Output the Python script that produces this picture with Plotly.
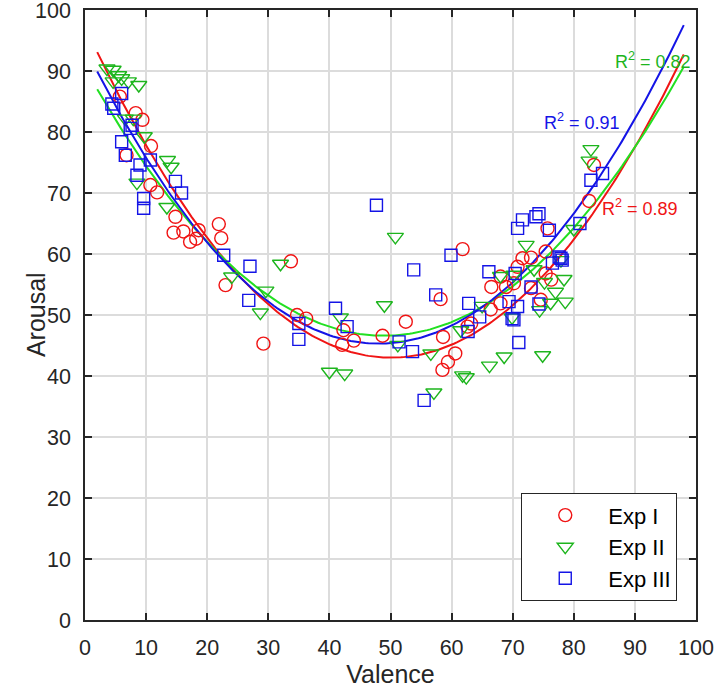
import numpy as np
import plotly.graph_objects as go

# (valence, arousal) pairs
exp1_points = [
    (5.7, 85.8), (8.3, 83.1), (9.4, 82.0), (10.8, 77.7), (6.8, 76.2), (10.7, 71.3),
    (11.8, 70.1), (14.8, 66.1), (14.5, 63.5), (16.1, 63.7), (17.2, 62.0), (18.2, 62.5),
    (18.6, 63.9), (21.9, 64.9), (22.3, 62.6), (23.0, 54.9), (33.7, 58.8), (29.2, 45.3),
    (34.7, 50.0), (36.2, 49.4), (42.3, 47.5), (42.1, 45.1), (44.0, 45.8), (48.7, 46.6),
    (52.5, 48.9), (61.8, 60.8), (58.2, 52.6), (58.6, 46.4), (60.6, 43.7), (59.4, 42.3),
    (58.5, 41.0), (63.2, 48.6), (62.6, 48.1), (66.5, 54.6), (68.0, 56.3), (66.4, 50.9),
    (68.0, 51.9), (71.6, 59.3), (73.0, 59.4), (75.7, 64.2), (75.4, 60.4), (75.4, 56.8),
    (73.0, 54.4), (74.6, 52.5), (70.2, 55.2), (68.9, 54.6), (70.8, 57.9), (82.5, 68.7),
    (83.3, 74.6), (76.3, 55.8),
]
exp2_points = [
    (3.6, 90.4), (4.6, 90.2), (5.5, 89.3), (6.0, 88.8), (7.1, 88.3), (4.6, 88.3),
    (8.8, 87.7), (6.6, 82.2), (7.9, 82.2), (9.7, 79.3), (13.5, 75.4), (14.1, 74.3),
    (8.5, 71.7), (13.4, 67.7), (24.0, 56.3), (32.0, 58.4), (29.6, 54.0), (28.7, 50.4),
    (41.8, 49.6), (40.0, 40.7), (42.5, 40.4), (49.0, 51.6), (50.8, 62.8), (51.2, 45.1),
    (56.6, 43.7), (57.1, 37.3), (61.8, 40.1), (62.4, 39.8), (61.5, 47.5), (66.2, 41.7),
    (65.0, 51.5), (68.6, 43.2), (74.9, 43.4), (69.9, 49.6), (72.2, 61.5), (74.4, 50.8),
    (76.2, 52.0), (78.6, 52.2), (78.4, 55.9), (77.0, 53.8), (68.0, 56.4), (77.9, 59.0),
    (82.8, 77.2), (82.5, 75.3), (80.0, 64.1), (73.5, 57.5), (75.2, 55.4), (70.2, 56.6),
]
exp3_points = [
    (6.0, 86.3), (4.4, 84.6), (4.7, 83.9), (7.7, 81.1), (7.4, 80.6), (6.0, 78.4),
    (6.6, 76.2), (9.0, 74.6), (10.7, 75.4), (8.5, 72.9), (9.6, 69.1), (9.6, 67.5),
    (14.8, 71.9), (15.8, 70.0), (22.7, 59.8), (27.0, 58.0), (26.8, 52.4), (35.0, 48.6),
    (35.0, 46.0), (41.0, 51.1), (42.9, 48.1), (47.7, 68.0), (53.8, 57.4), (59.9, 59.8),
    (57.4, 53.3), (66.1, 57.1), (62.8, 51.9), (64.6, 49.7), (51.4, 45.6), (53.6, 44.0),
    (62.7, 47.3), (55.5, 36.0), (70.8, 64.2), (71.6, 65.6), (73.8, 66.1), (74.3, 66.6),
    (76.0, 63.9), (81.0, 65.0), (77.9, 59.3), (76.5, 58.5), (70.4, 56.8), (73.0, 54.6),
    (74.3, 51.8), (69.4, 52.2), (70.8, 51.4), (69.9, 49.4), (70.2, 49.2), (71.0, 45.5),
    (82.8, 72.1), (84.7, 73.2), (78.1, 59.0), (77.6, 59.5),
]

names = ["Exp I", "Exp II", "Exp III"]
r2_labels = ["0.89", "0.82", "0.91"]

# quadratic fit coefficients (a, b, c)
fit_exp1 = [0.02166, -2.170, 97.35]
fit_exp2 = [0.01833, -1.7945, 90.52]
fit_exp3 = [0.02098, -2.0187, 93.86]
fit_range = [2, 98]

series = [exp1_points, exp2_points, exp3_points]
fits = [fit_exp1, fit_exp2, fit_exp3]
marker_colors = ["#F01414", "#1DB51D", "#1414E6"]
line_colors = ["#F01414", "#22E022", "#1414E6"]
symbols = ["circle-open", "triangle-down-open", "square-open"]
sizes = [13, 14, 12]
# label anchor (left, middle) in data units
label_pos = [(84.3, 67.6), (86.4, 91.8), (74.8, 81.7)]

fig = go.Figure()

# fit curves drawn under the markers
xs = np.linspace(fit_range[0], fit_range[1], 200)
for coef, lc in zip(fits, line_colors):
    fig.add_trace(go.Scatter(x=xs, y=np.polyval(coef, xs), mode="lines",
                             line=dict(color=lc, width=2), showlegend=False,
                             hoverinfo="skip"))

for pts, name, mc, sym, sz in zip(series, names, marker_colors, symbols, sizes):
    fig.add_trace(go.Scatter(x=[p[0] for p in pts], y=[p[1] for p in pts],
                             mode="markers", name=name,
                             marker=dict(symbol=sym, size=sz, color=mc,
                                         line=dict(width=1.4, color=mc))))

for (lx, ly), r2, mc in zip(label_pos, r2_labels, marker_colors):
    fig.add_annotation(x=lx, y=ly, xanchor="left", yanchor="middle", showarrow=False,
                       text="R<sup>2</sup> = " + r2,
                       font=dict(family="Liberation Sans, Arial", size=18, color=mc))

# y title placed by hand so it sits close to the tick labels
fig.add_annotation(x=-0.08, y=0.5, xref="paper", yref="paper", showarrow=False,
                   xanchor="center", yanchor="middle", textangle=-90,
                   text="Arousal", font=dict(size=25, color="#262626"))

axis_style = dict(range=[0, 100], dtick=10, showgrid=True, gridcolor="#DCDCDC",
                  gridwidth=1.5, showline=True, linecolor="#262626", linewidth=1.5,
                  mirror="ticks", ticks="inside", ticklen=7, tickwidth=1.5,
                  tickcolor="#262626", zeroline=False, automargin=False,
                  ticklabeloverflow="allow",
                  tickfont=dict(size=21.5, color="#262626"))

fig.update_layout(
    width=716, height=694,
    margin=dict(l=85, r=20, t=10, b=74),
    plot_bgcolor="white", paper_bgcolor="white",
    font=dict(family="Liberation Sans, Arial, sans-serif", color="#262626"),
    xaxis=dict(axis_style, ticklabelstandoff=7,
               title=dict(text="Valence", font=dict(size=25), standoff=6)),
    yaxis=dict(axis_style, ticklabelstandoff=8),
    legend=dict(x=0.969, y=0.031, xanchor="right", yanchor="bottom",
                bgcolor="white", bordercolor="#262626", borderwidth=1.2,
                itemwidth=76, font=dict(size=22, color="#000000")),
)

# the default page body has an 8px margin; drop it so the figure fills the window
fig.write_html("out.html", config={"displayModeBar": False},
               post_script="document.body.style.margin='0px';")
